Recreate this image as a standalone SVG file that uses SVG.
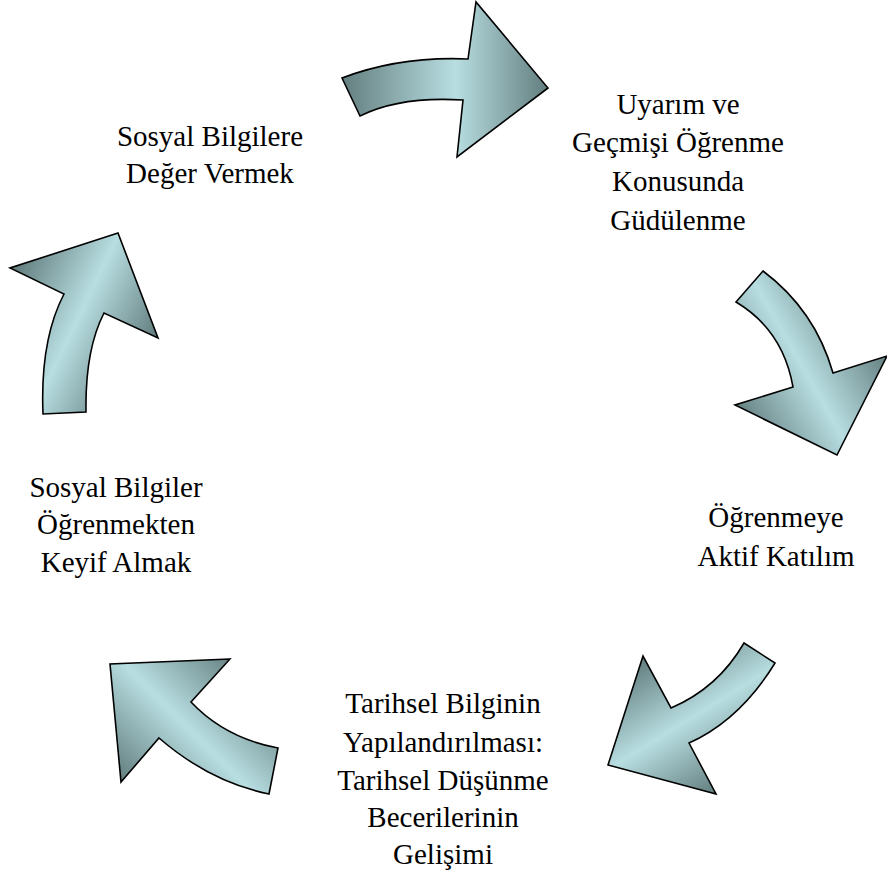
<svg xmlns="http://www.w3.org/2000/svg" width="887" height="887" viewBox="0 0 887 887">
<style>
.arrow{stroke:#000;stroke-width:1.6;stroke-linejoin:miter}
text{font-family:"Liberation Serif","Times New Roman",Times,"DejaVu Serif",serif;font-size:29px;fill:#000;text-anchor:middle}
</style>
<defs>
<linearGradient id="g1" gradientUnits="userSpaceOnUse" x1="342" y1="80" x2="548" y2="80">
<stop offset="0" stop-color="#637e7f"/><stop offset="0.55" stop-color="#b8dee1"/><stop offset="1" stop-color="#637e7f"/>
</linearGradient>
<linearGradient id="g2" gradientUnits="userSpaceOnUse" x1="740" y1="420" x2="880" y2="340">
<stop offset="0" stop-color="#637e7f"/><stop offset="0.5" stop-color="#b8dee1"/><stop offset="1" stop-color="#637e7f"/>
</linearGradient>
<linearGradient id="g3" gradientUnits="userSpaceOnUse" x1="640" y1="660" x2="720" y2="790">
<stop offset="0" stop-color="#637e7f"/><stop offset="0.5" stop-color="#b8dee1"/><stop offset="1" stop-color="#637e7f"/>
</linearGradient>
<linearGradient id="g4" gradientUnits="userSpaceOnUse" x1="120" y1="780" x2="240" y2="660">
<stop offset="0" stop-color="#637e7f"/><stop offset="0.5" stop-color="#b8dee1"/><stop offset="1" stop-color="#637e7f"/>
</linearGradient>
<linearGradient id="g5" gradientUnits="userSpaceOnUse" x1="15" y1="270" x2="155" y2="338">
<stop offset="0" stop-color="#637e7f"/><stop offset="0.5" stop-color="#b8dee1"/><stop offset="1" stop-color="#637e7f"/>
</linearGradient>
</defs>
<g id="connectors">
<path id="arrow1" class="arrow" fill="url(#g1)" d="M342,78 L360,116 Q400,96 463,100 L457,157 L548,88 L476,2 L468,59 Q400,56 342,78 Z"/>
<path id="arrow2" class="arrow" fill="url(#g2)" d="M763,271 Q815,310 833,373 L887,356 L837,455 L735,405 L793,387 Q783,330 736,302 Z"/>
<path id="arrow3" class="arrow" fill="url(#g3)" d="M744,643 L775,663 Q740,720 689,743 L716,794 L608,765 L643,656 L671,708 Q718,688 744,643 Z"/>
<path id="arrow4" class="arrow" fill="url(#g4)" d="M230,659 L110,664 L121,782 L159,738 Q210,782 269,794 L278,748 Q225,738 191,702 Z"/>
<path id="arrow5" class="arrow" fill="url(#g5)" d="M118,233 L10,268 L64,294 Q40,340 43,414 L86,412 Q85,350 104,313 L158,338 Z"/>
</g>
<g id="node1">
<text x="210" y="146">Sosyal Bilgilere</text>
<text x="210" y="183">Değer Vermek</text>
</g>
<g id="node2">
<text x="678" y="114">Uyarım ve</text>
<text x="678" y="152">Geçmişi Öğrenme</text>
<text x="678" y="191">Konusunda</text>
<text x="678" y="230">Güdülenme</text>
</g>
<g id="node3">
<text x="776" y="527">Öğrenmeye</text>
<text x="776" y="566">Aktif Katılım</text>
</g>
<g id="node4">
<text x="443" y="713">Tarihsel Bilginin</text>
<text x="443" y="752">Yapılandırılması:</text>
<text x="443" y="790">Tarihsel Düşünme</text>
<text x="443" y="827">Becerilerinin</text>
<text x="443" y="864">Gelişimi</text>
</g>
<g id="node5">
<text x="116" y="497">Sosyal Bilgiler</text>
<text x="116" y="534">Öğrenmekten</text>
<text x="116" y="572">Keyif Almak</text>
</g>
</svg>
